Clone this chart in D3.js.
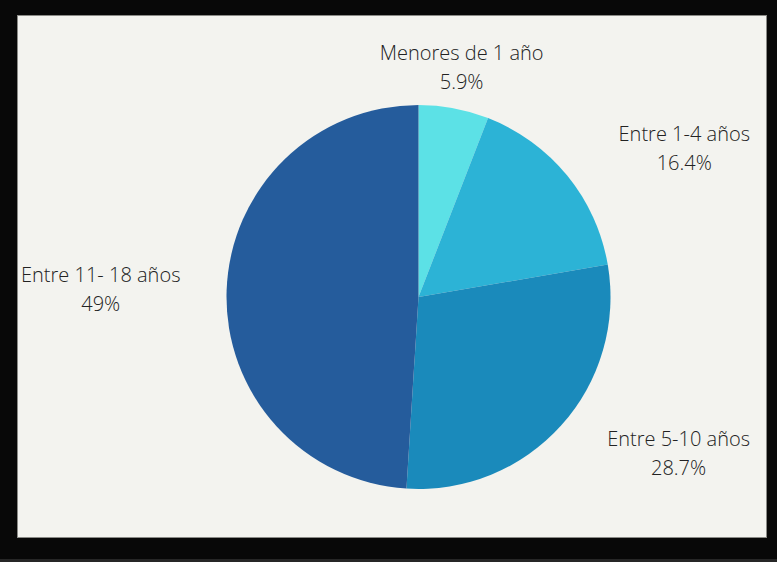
<!DOCTYPE html>
<html>
<head>
<meta charset="utf-8">
<script src="https://cdn.jsdelivr.net/npm/d3@7"></script>
<style>
  html, body { margin: 0; padding: 0; background: #080808; }
  svg { display: block; }
  .lbl { font-family: "Open Sans", sans-serif; font-weight: 300; font-size: 20px; fill: #222; }
</style>
</head>
<body>
<div id="chart"></div>
<script>
var categories = ["Menores de 1 año", "Entre 1-4 años", "Entre 5-10 años", "Entre 11- 18 años"];
var values = [5.9, 16.4, 28.7, 49];
var valueLabels = ["5.9%", "16.4%", "28.7%", "49%"];
var colors = ["#5ce1e6", "#2cb3d6", "#1a8abb", "#255c9c"];

var width = 777, height = 562;
var panel = {x: 17, y: 15, w: 750, h: 523};
var cx = 418.5, cy = 297, radius = 192;
var labelR = 234, lineGap = 29;

var svg = d3.select("#chart").append("svg")
  .attr("width", width)
  .attr("height", height);

svg.append("rect")
  .attr("x", 0).attr("y", 0)
  .attr("width", width).attr("height", height)
  .attr("fill", "#080808");
svg.append("rect")
  .attr("x", 0).attr("y", 559)
  .attr("width", width).attr("height", 3)
  .attr("fill", "#262626");
svg.append("rect")
  .attr("x", panel.x + 0.5).attr("y", panel.y + 0.5)
  .attr("width", panel.w - 1).attr("height", panel.h - 1)
  .attr("fill", "#f3f3ef")
  .attr("stroke", "#8a8a86")
  .attr("stroke-width", 1);

var pie = d3.pie().sort(null).value(function(d) { return d; });
var arc = d3.arc().innerRadius(0).outerRadius(radius);
var arcs = pie(values);

var g = svg.append("g").attr("transform", "translate(" + cx + "," + cy + ")");
g.selectAll("path.slice")
  .data(arcs)
  .enter()
  .append("path")
  .attr("class", "slice")
  .attr("d", arc)
  .attr("fill", function(d, i) { return colors[i]; });

// labels: placed along the mid angle, side labels pushed to the panel edges
var labels = svg.append("g");
arcs.forEach(function(d, i) {
  var mid = (d.startAngle + d.endAngle) / 2;
  var sx = Math.sin(mid), sy = -Math.cos(mid);
  var y = cy + labelR * sy;
  var t = labels.append("text")
    .attr("class", "lbl")
    .attr("text-anchor", "middle");
  t.append("tspan").attr("x", 0).attr("y", y - lineGap / 2 + 7).text(categories[i]);
  t.append("tspan").attr("x", 0).attr("y", y + lineGap / 2 + 7).text(valueLabels[i]);
  var w = t.node().getBBox().width;
  var x;
  if (Math.abs(sx) < 0.6) {
    x = cx + labelR * sx;
  } else if (sx > 0) {
    x = panel.x + panel.w - 17 - w / 2;
  } else {
    x = panel.x + 4 + w / 2;
  }
  t.selectAll("tspan").attr("x", x);
});
</script>
</body>
</html>
